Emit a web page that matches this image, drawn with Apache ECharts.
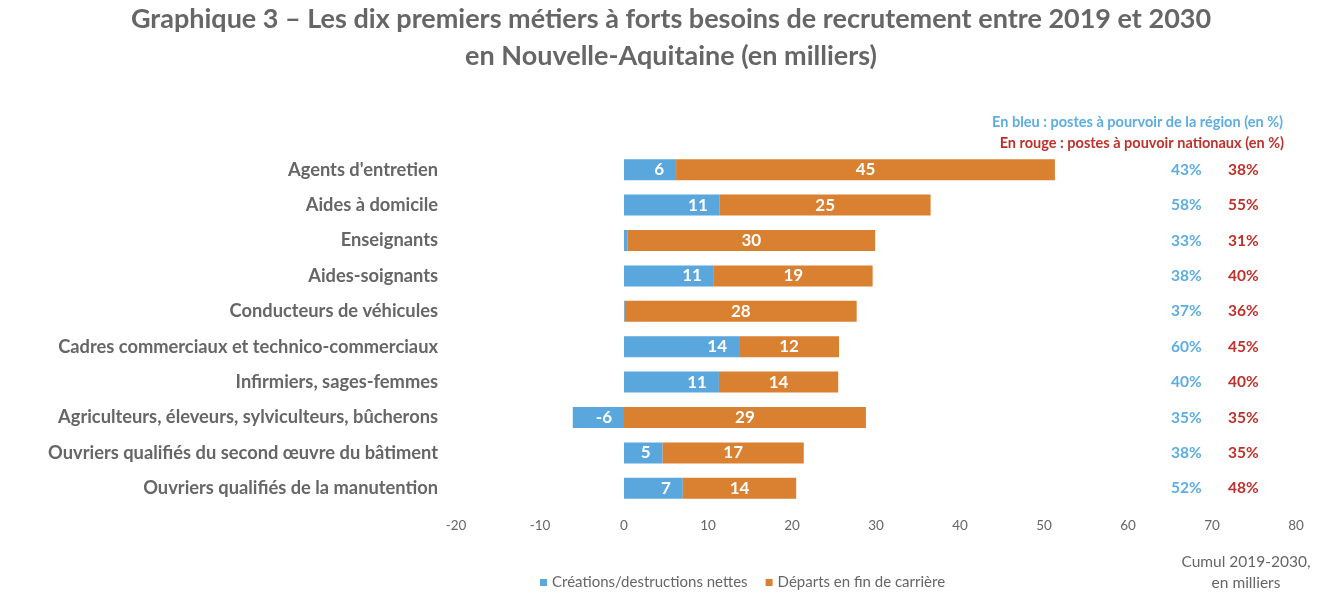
<!DOCTYPE html>
<html><head><meta charset="utf-8">
<script src="https://cdn.jsdelivr.net/npm/echarts@6/dist/echarts.min.js"></script>
<style>html,body{margin:0;padding:0;background:#fff}#c{width:1342px;height:612px}</style>
</head><body><div id="c"></div>
<script>
const categories = ["Agents d'entretien","Aides à domicile","Enseignants","Aides-soignants","Conducteurs de véhicules","Cadres commerciaux et technico-commerciaux","Infirmiers, sages-femmes","Agriculteurs, éleveurs, sylviculteurs, bûcherons","Ouvriers qualifiés du second œuvre du bâtiment","Ouvriers qualifiés de la manutention"];
const creations = [6.2, 11.4, 0.4, 10.7, 0.1, 13.7, 11.3, -6.1, 4.6, 7.0];
const departs = [45.1, 25.1, 29.5, 18.9, 27.6, 11.9, 14.2, 28.8, 16.8, 13.5];
const pctRegion = [43, 58, 33, 38, 37, 60, 40, 35, 38, 52];
const pctNational = [38, 55, 31, 40, 36, 45, 40, 35, 35, 48];
const xTicks = [-20, -10, 0, 10, 20, 30, 40, 50, 60, 70, 80];

const FONT = 'Lato';
const GREY = '#666666';
const BLUE = '#5AA7DD';
const ORANGE = '#D98031';
const RED = '#C0312B';
const TXTBLUE = '#5DADE2';

const chart = echarts.init(document.getElementById('c'));
chart.setOption({
  animation: false,
  textStyle: {fontFamily: FONT},
  title: [
    {text: 'Graphique 3 – Les dix premiers métiers à forts besoins de recrutement entre 2019 et 2030\nen Nouvelle-Aquitaine (en milliers)',
     left: 'center', top: -4,
     textStyle: {fontFamily: FONT, fontWeight: 'bold', fontSize: 27, color: GREY, lineHeight: 37, align: 'center'}},
    {text: 'En bleu : postes à pourvoir de la région (en %)', right: 54, top: 110,
     textStyle: {fontFamily: FONT, fontWeight: 'bold', fontSize: 14.5, color: TXTBLUE}},
    {text: 'En rouge : postes à pouvoir nationaux (en %)', right: 53, top: 131,
     textStyle: {fontFamily: FONT, fontWeight: 'bold', fontSize: 14.5, color: RED}},
    {text: 'Cumul 2019-2030,\nen milliers', left: 1241, top: 546, textAlign: 'center',
     textStyle: {fontFamily: FONT, fontWeight: 'normal', fontSize: 15.5, color: GREY, lineHeight: 21, align: 'center'}}
  ],
  legend: {
    data: ['Créations/destructions nettes', 'Départs en fin de carrière'],
    left: 535, top: 570, itemWidth: 7, itemHeight: 7, itemGap: 18, icon: 'rect',
    textStyle: {fontFamily: FONT, fontSize: 15, color: GREY}
  },
  grid: {left: 456, right: 46, top: 152, bottom: 106, outerBoundsMode: 'none', containLabel: false},
  xAxis: {
    type: 'value', min: xTicks[0], max: xTicks[xTicks.length - 1], interval: 10,
    axisLine: {show: false}, axisTick: {show: false}, splitLine: {show: false},
    axisLabel: {color: GREY, fontSize: 13.5, fontFamily: FONT, margin: 13}
  },
  yAxis: [
    {type: 'category', data: categories, inverse: true,
     axisLine: {show: false}, axisTick: {show: false},
     axisLabel: {margin: 18, color: GREY, fontWeight: 'bold', fontSize: 18.3, fontFamily: FONT}},
    {type: 'category', data: categories, inverse: true, position: 'right', offset: -125,
     axisLine: {show: false}, axisTick: {show: false},
     axisLabel: {margin: 0, fontFamily: FONT, fontWeight: 'bold', fontSize: 15.5,
       formatter: function (v, i) { return '{b|' + pctRegion[i] + '%}{r|' + pctNational[i] + '%}'; },
       rich: {b: {color: TXTBLUE, width: 57, fontWeight: 'bold', fontSize: 15.5, fontFamily: FONT},
              r: {color: RED, fontWeight: 'bold', fontSize: 15.5, fontFamily: FONT}}}}
  ],
  series: [
    {name: 'Créations/destructions nettes', type: 'bar', stack: 'tot', data: creations,
     barWidth: 21, itemStyle: {color: BLUE},
     label: {show: true, position: 'insideRight', distance: 12, color: '#fff', fontWeight: 'bold', fontSize: 17, fontFamily: FONT,
       formatter: function (p) { return Math.abs(p.value) < 1 ? '' : Math.round(p.value); }}},
    {name: 'Départs en fin de carrière', type: 'bar', stack: 'tot', data: departs,
     barWidth: 21, itemStyle: {color: ORANGE},
     label: {show: true, position: 'inside', color: '#fff', fontWeight: 'bold', fontSize: 17, fontFamily: FONT,
       formatter: function (p) { return Math.round(p.value); }}}
  ]
});
</script></body></html>
